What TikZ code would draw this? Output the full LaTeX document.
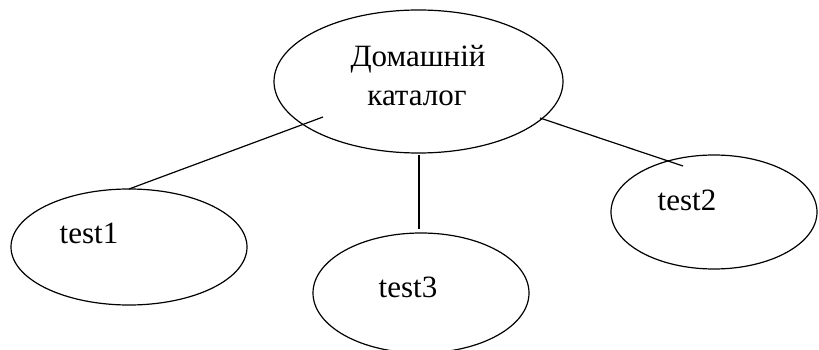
\documentclass[tikz,border=0pt]{standalone}
\usepackage{fontspec}
\setmainfont{Liberation Serif}
\usetikzlibrary{shapes.geometric}
\begin{document}
\begin{tikzpicture}[x=1pt,y=-1pt,
  oval/.style={draw, ellipse, line width=1.2pt, inner sep=0pt, outer sep=0pt},
  lbl/.style={anchor=base, inner sep=0pt, font=\fontsize{31}{37}\selectfont},
  link/.style={line width=1.2pt}]
\useasboundingbox (0,0) rectangle (819,350);
\node[oval, minimum width=289pt, minimum height=143pt] (root) at (418.5,81.5) {};
\node[oval, minimum width=236pt, minimum height=116pt] (test1) at (129,247) {};
\node[oval, minimum width=216pt, minimum height=120pt] (test3) at (421,293) {};
\node[oval, minimum width=206pt, minimum height=114pt] (test2) at (714,212) {};
\node[lbl] (rootA) at (418,67) {Домашній};
\node[lbl] (rootB) at (417,106) {каталог};
\node[lbl] (l1) at (89,243) {test1};
\node[lbl] (l3) at (408,297) {test3};
\node[lbl] (l2) at (687,210) {test2};
\coordinate (r1) at (323,117);
\coordinate (r2) at (419,155);
\coordinate (t3) at (419,229);
\coordinate (r3) at (540,118);
\coordinate (t2) at (683,166);
\draw[link] (r1) -- (test1.north);
\draw[link] (r2) -- (t3);
\draw[link] (r3) -- (t2);
\end{tikzpicture}
\end{document}
